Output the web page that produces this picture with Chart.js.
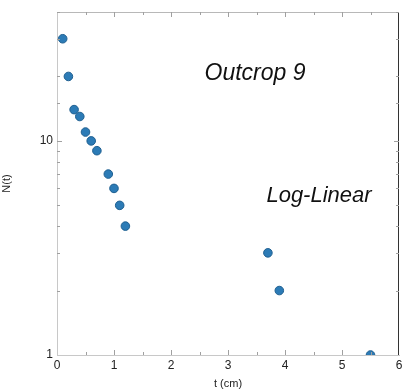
<!DOCTYPE html>
<html lang="en">
<head>
<meta charset="UTF-8">
<title>Outcrop 9</title>
<script src="https://cdn.jsdelivr.net/npm/chart.js"></script>
<style>
  html, body { margin: 0; padding: 0; background: #fff; overflow: hidden; }
  #myChart { display: block; }
</style>
</head>
<body>
<canvas id="myChart" width="414" height="391"></canvas>
<script>
  // values
  var tValues = [0.1, 0.2, 0.3, 0.4, 0.5, 0.6, 0.7, 0.9, 1.0, 1.1, 1.2, 3.7, 3.9, 5.5];
  var nValues = [30, 20, 14, 13, 11, 10, 9, 7, 6, 5, 4, 3, 2, 1];
  var xLabels = ['0', '1', '2', '3', '4', '5', '6'];
  var yLabels = ['1', '10'];

  var points = [];
  for (var i = 0; i < tValues.length; i++) {
    points.push({ x: tValues[i], y: nValues[i] });
  }

  // inward tick marks + top/right frame + the two italic notes
  var frame = {
    id: 'frame',
    afterDraw: function (chart) {
      var c = chart.ctx, a = chart.chartArea;
      var xs = chart.scales.x, ys = chart.scales.y;
      c.save();
      c.lineWidth = 1;
      c.strokeStyle = '#b8b8b8';
      c.beginPath();
      c.moveTo(a.left, a.top + 0.5); c.lineTo(a.right, a.top + 0.5);
      c.stroke();
      c.strokeStyle = '#333';
      c.beginPath();
      c.moveTo(a.right - 0.5, a.top); c.lineTo(a.right - 0.5, a.bottom);
      c.stroke();

      c.strokeStyle = '#a0a0a0';
      xs.ticks.forEach(function (t) {
        var px = Math.round(xs.getPixelForValue(t.value)) + 0.5;
        var len = Number.isInteger(t.value) ? 5 : 3;
        if (t.value <= 0 || t.value >= 6) return;
        c.beginPath();
        c.moveTo(px, a.bottom); c.lineTo(px, a.bottom - len);
        c.moveTo(px, a.top); c.lineTo(px, a.top + len);
        c.stroke();
      });
      ys.ticks.forEach(function (t) {
        if (t.value <= 1) return;
        var py = Math.round(ys.getPixelForValue(t.value)) + 0.5;
        var len = (t.value === 10) ? 5 : 3;
        c.beginPath();
        c.moveTo(a.left, py); c.lineTo(a.left + len, py);
        c.moveTo(a.right, py); c.lineTo(a.right - len, py);
        c.stroke();
      });

      c.fillStyle = '#111';
      c.textAlign = 'center';
      c.textBaseline = 'middle';
      c.font = 'italic 23px "Liberation Sans", Arial, sans-serif';
      c.fillText('Outcrop 9', 255, 74);
      c.font = 'italic 22px "Liberation Sans", Arial, sans-serif';
      c.fillText('Log-Linear', 319, 196);
      c.restore();
    }
  };

  const ctx = document.getElementById('myChart');

  new Chart(ctx, {
    type: 'scatter',
    data: {
      datasets: [{
        label: 'N(t)',
        data: points,
        backgroundColor: '#2c7bb6',
        borderColor: '#1f5f90',
        borderWidth: 1,
        pointRadius: 4.3,
        pointHoverRadius: 4.3
      }]
    },
    options: {
      responsive: false,
      animation: false,
      events: [],
      layout: { padding: { top: 12, right: 15, left: 0, bottom: 0 } },
      plugins: { legend: { display: false }, tooltip: { enabled: false } },
      scales: {
        x: {
          type: 'linear',
          min: 0,
          max: 6,
          ticks: {
            stepSize: 0.5,
            autoSkip: false,
            maxRotation: 0,
            padding: 3,
            color: '#222',
            font: { family: 'Liberation Sans', size: 12 },
            callback: function (v) {
              return Number.isInteger(v) ? xLabels[v] : '';
            }
          },
          grid: { display: true, drawOnChartArea: false, drawTicks: false },
          border: { display: true, color: '#c8c8c8' },
          title: {
            display: true,
            text: 't (cm)',
            color: '#222',
            padding: { top: 0, bottom: 0 },
            font: { family: 'Liberation Sans', size: 11 }
          },
          afterFit: function (s) { s.height = 36; }
        },
        y: {
          type: 'logarithmic',
          min: 1,
          max: 40,
          ticks: {
            autoSkip: false,
            padding: 4,
            color: '#222',
            font: { family: 'Liberation Sans', size: 12 },
            callback: function (v) {
              if (v === 1) return yLabels[0];
              if (v === 10) return yLabels[1];
              return '';
            }
          },
          grid: { display: true, drawOnChartArea: false, drawTicks: false },
          border: { display: true, color: '#c8c8c8' },
          title: {
            display: true,
            text: 'N(t)',
            color: '#222',
            padding: { top: 0, bottom: 12 },
            font: { family: 'Liberation Sans', size: 11 }
          },
          afterFit: function (s) { s.width = 57; }
        }
      }
    },
    plugins: [frame]
  });
</script>
</body>
</html>
